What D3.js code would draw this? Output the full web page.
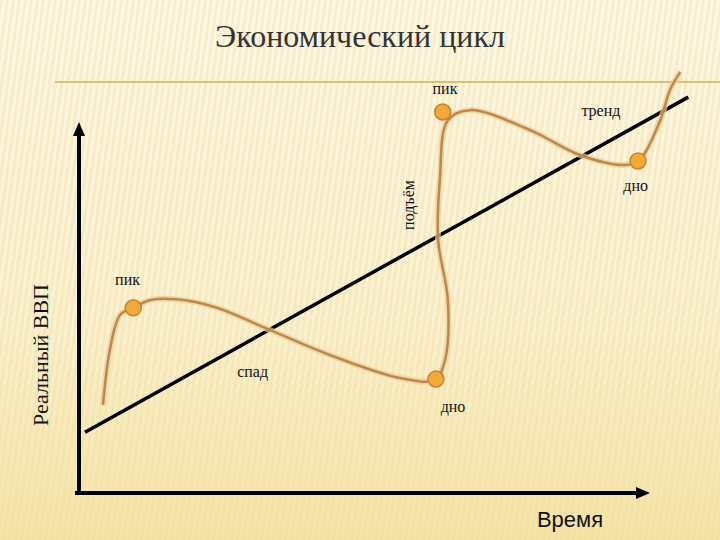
<!DOCTYPE html><html><head><meta charset="utf-8"><script src="https://cdn.jsdelivr.net/npm/d3@7"></script>
<style>body{margin:0}svg{display:block}</style></head><body><svg id="c" width="720" height="540"></svg>
<script>
const curveT=[4.2,5.4,7.2,9.5,12.5,17.0,24.0,32.6,43.9,56.2,62.3,64.1,64.6,62.9,63.2,64.6,68.5,79.0,87.7,95.6,98.2,101.8,103.5,105.3];
const curveG=[23.7,38.5,48.0,49.9,52.0,52.2,50.0,44.5,37.2,31.0,30.5,35.8,52.0,68.2,84.4,100.5,103.2,97.8,91.1,88.4,89.8,100.5,108.6,113.5];
const markT=[9.5,62.5,63.7,97.9];
const markG=[49.9,30.7,102.7,89.5];
const trendT=[1.05,106.7];
const trendG=[16.4,106.7];
const labels=["пик","спад","дно","пик","тренд","дно"];
const labT=[8.5,30.4,65.5,64.1,91.4,97.5];
const labG=[56.0,31.3,21.8,107.5,101.6,81.5];
const SERIF="'Liberation Serif','Times New Roman','DejaVu Serif',serif";
const svg=d3.select("#c");
const x=d3.scaleLinear().domain([0,100]).range([79,650]);
const y=d3.scaleLinear().domain([0,100]).range([493,122]);
const defs=svg.append("defs");
const g=defs.append("linearGradient").attr("id","bg").attr("x1",0).attr("y1",0).attr("x2",0).attr("y2",1);
g.append("stop").attr("offset","0").attr("stop-color","#fdf8e6");
g.append("stop").attr("offset","0.6").attr("stop-color","#fbf1cf");
g.append("stop").attr("offset","1").attr("stop-color","#f5e3a5");
const p=defs.append("pattern").attr("id","st").attr("width",6).attr("height",10).attr("patternUnits","userSpaceOnUse").attr("patternTransform","skewX(-8)");
p.append("rect").attr("width",3).attr("height",10).attr("fill","#ecd9a0").attr("opacity",0.35);
svg.append("rect").attr("width",720).attr("height",540).attr("fill","url(#bg)");
svg.append("rect").attr("width",720).attr("height",540).attr("fill","url(#st)");
svg.append("line").attr("x1",55).attr("x2",720).attr("y1",82).attr("y2",82).attr("stroke","#e2bf6a").attr("stroke-width",2);
svg.append("text").attr("x",360).attr("y",47).attr("text-anchor","middle").attr("font-family",SERIF).attr("font-size",32).attr("fill","#333").text("Экономический цикл");
const ax=svg.append("g").attr("stroke","#000").attr("stroke-width",4);
ax.append("line").attr("x1",x(0)).attr("x2",x(0)).attr("y1",y(0)).attr("y2",y(100)+10);
ax.append("line").attr("x1",x(0)-4).attr("x2",x(100)-10).attr("y1",y(0)).attr("y2",y(0));
svg.append("path").attr("d",`M${x(0)},${y(100)} l-6,14 l12,0 z`).attr("fill","#000");
svg.append("path").attr("d",`M${x(100)},${y(0)} l-14,-6 l0,12 z`).attr("fill","#000");
svg.append("line").attr("x1",x(trendT[0])).attr("y1",y(trendG[0])).attr("x2",x(trendT[1])).attr("y2",y(trendG[1])).attr("stroke","#000").attr("stroke-width",3.5);
const line=d3.line().x(d=>x(d[0])).y(d=>y(d[1])).curve(d3.curveCatmullRom.alpha(0.5));
const pts=curveT.map((t,i)=>[t,curveG[i]]);
svg.append("path").attr("d",line(pts)).attr("fill","none").attr("stroke","#e8cf9a").attr("stroke-width",6).attr("opacity",0.7);
svg.append("path").attr("d",line(pts)).attr("fill","none").attr("stroke","#c0874a").attr("stroke-width",2.5);
svg.selectAll("circle.m").data(markT).join("circle").attr("cx",d=>x(d)).attr("cy",(d,i)=>y(markG[i])).attr("r",8).attr("fill","#f2a93a").attr("stroke","#c9832a").attr("stroke-width",1.5);
svg.selectAll("text.l").data(labels).join("text").attr("x",(d,i)=>x(labT[i])).attr("y",(d,i)=>y(labG[i])).attr("text-anchor","middle").attr("font-family",SERIF).attr("font-size",16).attr("fill","#111").text(d=>d);
svg.append("text").attr("transform","translate(414,205) rotate(-90)").attr("text-anchor","middle").attr("font-family",SERIF).attr("font-size",16).attr("fill","#111").text("подъём");
svg.append("text").attr("transform","translate(48,355) rotate(-90)").attr("text-anchor","middle").attr("font-family",SERIF).attr("font-size",22).attr("fill","#111").text("Реальный ВВП");
svg.append("text").attr("x",570).attr("y",527).attr("text-anchor","middle").attr("font-family","'Liberation Sans',Arial,sans-serif").attr("font-size",22).attr("fill","#111").text("Время");
</script></body></html>
